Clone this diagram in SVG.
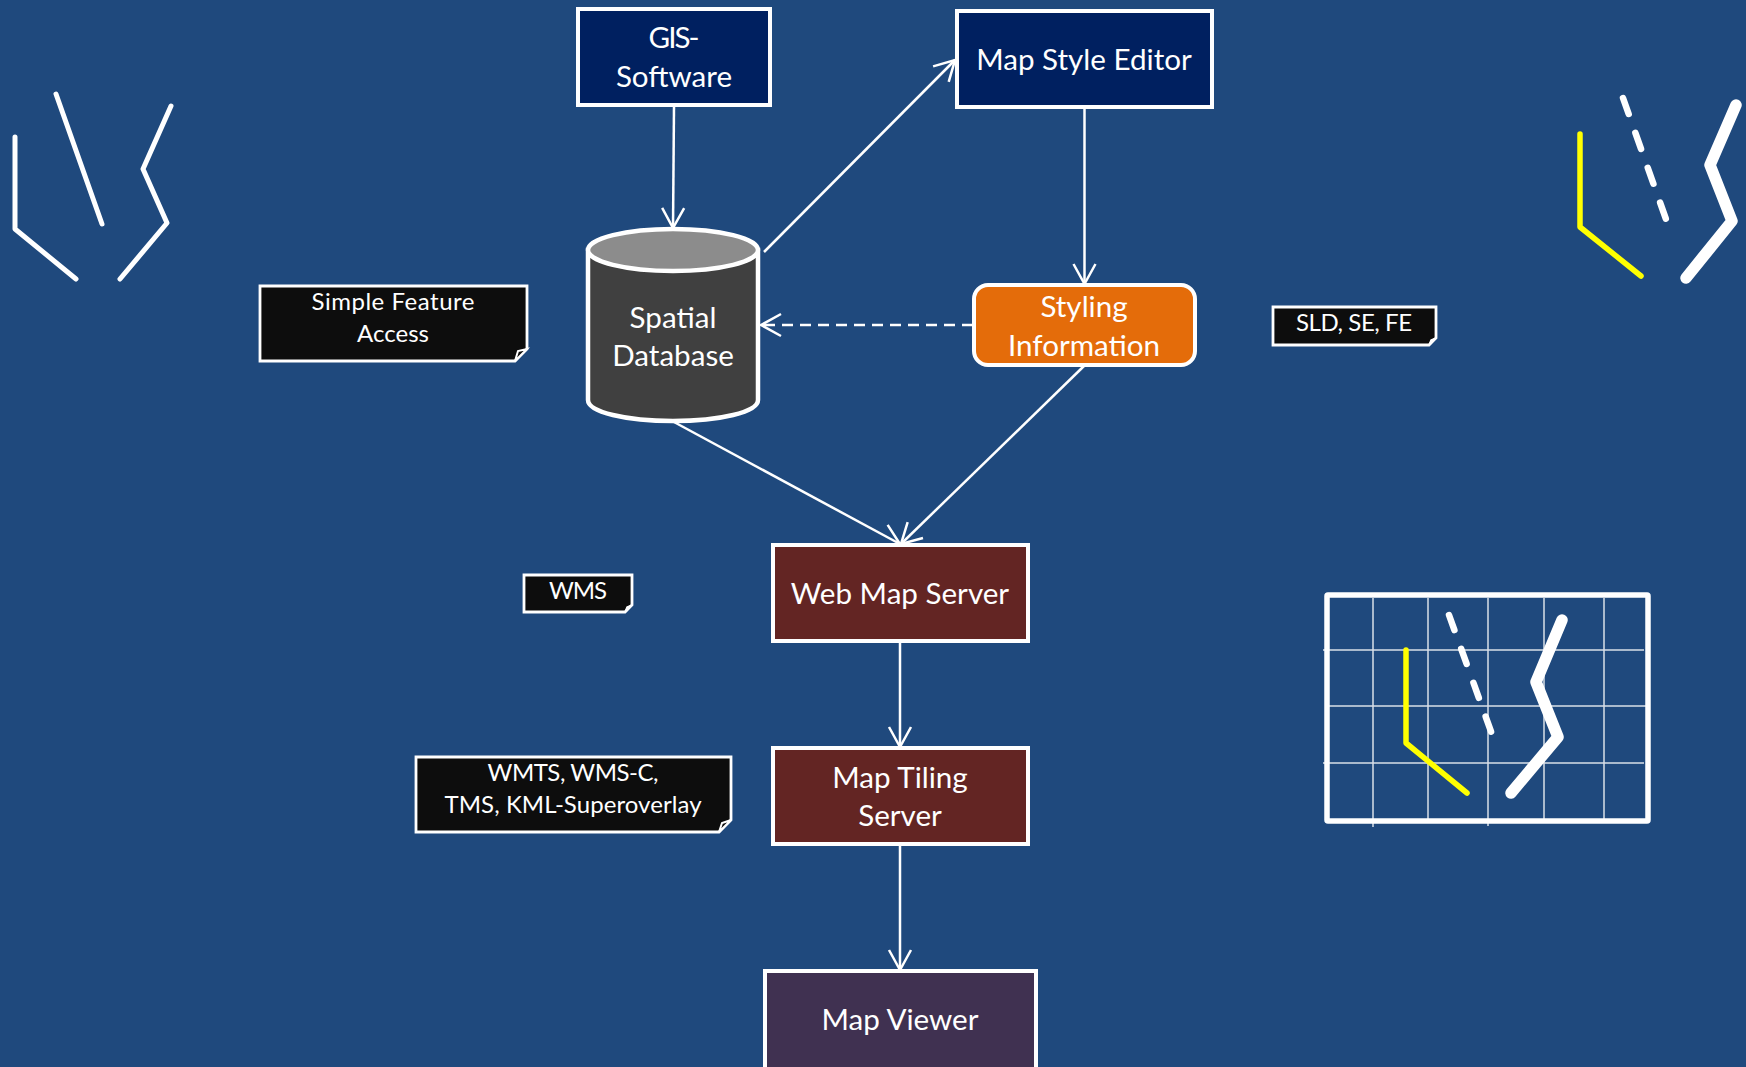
<svg xmlns="http://www.w3.org/2000/svg" width="1746" height="1067" viewBox="0 0 1746 1067">
<style>
text{font-family:"Lato","Open Sans","Liberation Sans",sans-serif;fill:#fff;text-anchor:middle}
.n{font-size:29.600px}
.s{font-size:24px}
.box{stroke:#fff;stroke-width:4}
.note{fill:#0d0d0d;stroke:#fff;stroke-width:2.800}
.fold{fill:#fff;stroke:#fff;stroke-width:1.500}
.fd{fill:#0d0d0d;stroke:#fff;stroke-width:2}
.con{fill:none;stroke:#fff;stroke-width:2.500}
.ln{fill:none;stroke:#fff;stroke-linecap:round;stroke-linejoin:round}
.y{fill:none;stroke:#ff0;stroke-linecap:round;stroke-linejoin:round;stroke-width:5.500}
.g{stroke:#d9dfe8;stroke-width:1.500}
</style>
<defs>
<marker id="a" markerUnits="userSpaceOnUse" markerWidth="30" markerHeight="30" refX="22" refY="12" orient="auto" overflow="visible">
<path d="M2 1L22 12L2 23" fill="none" stroke="#fff" stroke-width="2.500" stroke-linejoin="miter"/>
</marker>
</defs>
<rect width="1746" height="1067" fill="#1f497d"/>
<g id="connectors">
<path class="con" d="M674 106L673 228" marker-end="url(#a)"/>
<path class="con" d="M764 252L955 60" marker-end="url(#a)"/>
<path class="con" d="M1084.500 107V284" marker-end="url(#a)"/>
<path class="con" d="M973 325H761" stroke-dasharray="11 7" marker-end="url(#a)"/>
<path class="con" d="M674 422L900 544" marker-end="url(#a)"/>
<path class="con" d="M1084 366L901 544" marker-end="url(#a)"/>
<path class="con" d="M900 641V747" marker-end="url(#a)"/>
<path class="con" d="M900 844V970" marker-end="url(#a)"/>
</g>
<g id="gis"><rect class="box" x="578" y="9" width="192" height="96" fill="#002060"/><text class="n" x="674" y="48" textLength="51">GIS-</text><text class="n" x="674" y="87">Software</text></g>
<g id="editor"><rect class="box" x="957" y="11" width="255" height="96" fill="#002060"/><text class="n" x="1084" y="70">Map Style Editor</text></g>
<g id="db"><path d="M588 250V400C588 412 626 421 673 421S758 412 758 400V250Z" fill="#404040" stroke="#fff" stroke-width="4.500"/><ellipse cx="673" cy="250" rx="85" ry="21" fill="#8c8c8c" stroke="#fff" stroke-width="4.500"/><text class="n" x="673" y="328">Spatial</text><text class="n" x="673" y="366">Database</text></g>
<g id="styling"><rect class="box" x="974" y="285" width="221" height="80" rx="14" fill="#e46c0a"/><text class="n" x="1084" y="317">Styling</text><text class="n" x="1084" y="356">Information</text></g>
<g id="wms"><rect class="box" x="773" y="545" width="255" height="96" fill="#632523"/><text class="n" x="900" y="604">Web Map Server</text></g>
<g id="tiling"><rect class="box" x="773" y="748" width="255" height="96" fill="#632523"/><text class="n" x="900" y="788">Map Tiling</text><text class="n" x="900" y="826">Server</text></g>
<g id="viewer"><rect class="box" x="765" y="971" width="271" height="100" fill="#403151"/><text class="n" x="900" y="1030">Map Viewer</text></g>
<g id="note-sfa"><path class="note" d="M260 286H527V349L515 361H260Z"/><path class="fd" d="M515 361L518 351L527 349Z"/><text class="s" x="393" y="310" textLength="163">Simple Feature</text><text class="s" x="393" y="342">Access</text></g>
<g id="note-sld"><path class="note" d="M1273 307H1436V338L1429 345H1273Z"/><path class="fold" d="M1429 345L1431 340L1436 338Z"/><text class="s" x="1354" y="331" textLength="116">SLD, SE, FE</text></g>
<g id="note-wms"><path class="note" d="M524 575H632V605L625 612H524Z"/><path class="fold" d="M625 612L627 607L632 605Z"/><text class="s" x="578" y="599" textLength="58">WMS</text></g>
<g id="note-wmts"><path class="note" d="M416 757H731V820L719 832H416Z"/><path class="fd" d="M719 832L722 823L731 820Z"/><text class="s" x="573" y="781" textLength="171">WMTS, WMS-C,</text><text class="s" x="573" y="813" textLength="257">TMS, KML-Superoverlay</text></g>
<g id="sketch-left">
<path class="ln" stroke-width="5" d="M15 137V229L76 279"/>
<path class="ln" stroke-width="5" d="M56 94L102 224"/>
<path class="ln" stroke-width="5" d="M171 106L143 169L167 223L120 279"/>
</g>
<g id="sketch-right">
<path class="y" d="M1580 134V227L1641 276"/>
<path class="ln" stroke-width="6.500" stroke-dasharray="17 20" d="M1623 98L1667 222"/>
<path class="ln" stroke-width="11.500" d="M1736 105L1710 165L1732 221L1686 278"/>
</g>
<g id="map">
<rect x="1326" y="594" width="322" height="227" fill="#1f497d"/>
<path class="g" d="M1373 598V827M1428 598V820M1488 598V826M1544 598V820M1604 598V820M1323 650H1644M1326 706H1646M1323 763H1644"/>
<path class="y" d="M1406 650V743L1467 793"/>
<path class="ln" stroke-width="6.500" stroke-dasharray="16 20" d="M1449 615L1493 737"/>
<path class="ln" stroke-width="11.500" d="M1562 620L1536 682L1558 737L1511 793"/>
<rect x="1327" y="595" width="321" height="226" rx="1" fill="none" stroke="#fff" stroke-width="5.500"/>
</g>
</svg>
